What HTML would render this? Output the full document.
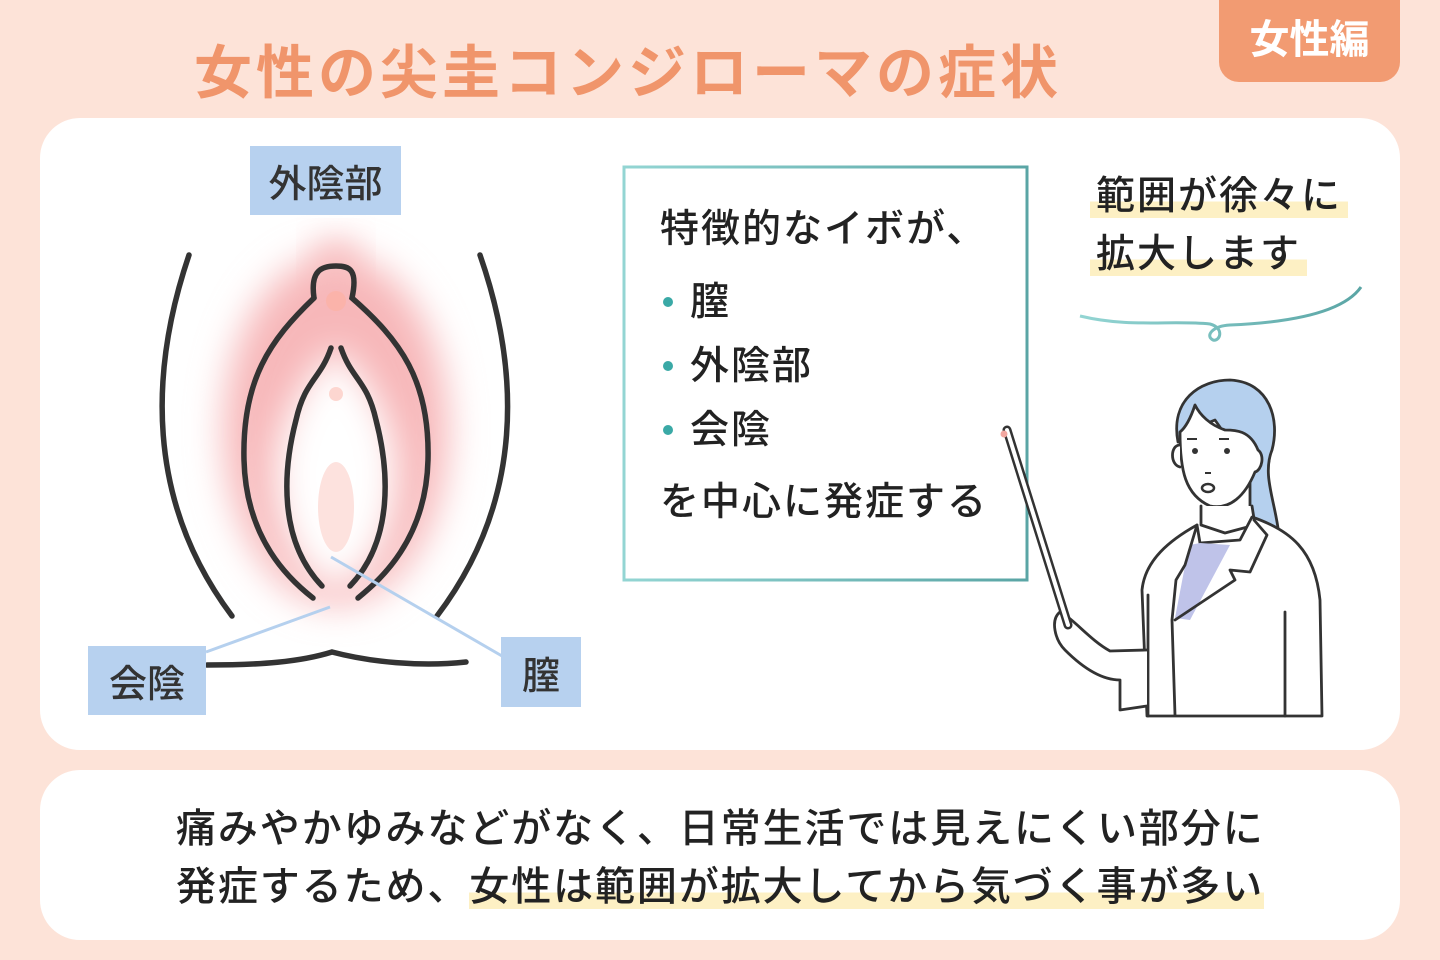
<!DOCTYPE html>
<html><head><meta charset="utf-8"><style>
body{margin:0;width:1440px;height:960px;background:#fde3d8;position:relative;overflow:hidden;font-family:"Liberation Sans","Noto Sans CJK JP",sans-serif;color:#222}
.t{position:absolute;white-space:nowrap}
.card{position:absolute;background:#fff;border-radius:40px}
.lab{position:absolute;background:#b7d1ef;font-size:38px;font-weight:500;display:flex;align-items:center;justify-content:center;color:#333}
.hl{background:linear-gradient(transparent 62%,#fdf0c4 62%)}
.bx{font-size:39px;font-weight:500;letter-spacing:2px;line-height:50px}
</style></head><body>
<div class="t" style="left:194px;top:26px;font-size:58px;font-weight:bold;color:#f0956b;letter-spacing:4px">女性の尖圭コンジローマの症状</div>
<div class="t" style="left:1219px;top:0;width:181px;height:82px;background:#f29b72;border-radius:0 0 20px 20px;color:#fff;font-size:40px;font-weight:bold;text-align:center;line-height:80px">女性編</div>
<div class="card" style="left:40px;top:118px;width:1360px;height:632px"></div>
<div class="card" style="left:40px;top:770px;width:1360px;height:170px"></div>
<svg class="t" style="left:0;top:0" width="1440" height="960">
<defs>
<filter id="b" x="-50%" y="-50%" width="200%" height="200%"><feGaussianBlur stdDeviation="18"/></filter>
<linearGradient id="g" x1="0" x2="1"><stop offset="0" stop-color="#93d5d3"/><stop offset="1" stop-color="#5aa5a5"/></linearGradient>
</defs>
<ellipse cx="336" cy="430" rx="112" ry="175" fill="#f7b7b9" filter="url(#b)"/>
<ellipse cx="336" cy="262" rx="20" ry="22" fill="#f7b7b9" filter="url(#b)"/>
<path d="M336,348 C300,380 275,430 275,470 C275,530 300,575 336,590 C372,575 397,530 397,470 C397,430 372,380 336,348Z" fill="#fff" filter="url(#b)"/>
<g fill="none" stroke="#333" stroke-width="5.5" stroke-linecap="round">
<path d="M189,255 C150,370 145,500 232,616"/>
<path d="M480,255 C520,370 525,500 437,616"/>
<path d="M314,298 C310,270 322,266 336,266 C350,266 358,270 352,298 C400,340 430,380 428,460 C426,540 380,580 358,598"/>
<path d="M314,298 C270,340 242,380 244,460 C246,540 290,580 313,598"/>
<path d="M331,348 C320,380 305,380 296,420 C283,470 278,540 322,586"/>
<path d="M341,348 C352,380 367,380 376,420 C389,470 394,540 350,586"/>
<path d="M207,665 C260,665 300,662 332,652 C370,662 420,667 466,662"/>
</g>
<circle cx="336" cy="301" r="10" fill="#fbb3aa"/>
<circle cx="336" cy="394" r="7" fill="#fdd6d0"/>
<ellipse cx="336" cy="507" rx="18" ry="45" fill="#fde2de"/>
<g stroke="#b5d0ee" stroke-width="3"><line x1="330" y1="607" x2="206" y2="652"/><line x1="331" y1="557" x2="502" y2="656"/></g>
<rect x="624" y="167" width="403" height="413" fill="none" stroke="url(#g)" stroke-width="3"/>
<g fill="#3aa9a6"><circle cx="668" cy="302" r="5"/><circle cx="668" cy="366" r="5"/><circle cx="668" cy="430" r="5"/></g>
<path d="M1080,316 C1130,328 1170,320 1210,324 C1225,328 1220,342 1213,340 C1205,336 1212,326 1230,325 C1300,322 1345,310 1361,287" fill="none" stroke="url(#g)" stroke-width="3"/>
<g stroke="#333" stroke-width="2.8" stroke-linejoin="round" stroke-linecap="round" fill="none">
<path d="M1178,442 C1170,400 1200,380 1230,380 C1270,382 1280,420 1272,450 C1262,475 1275,500 1279,535 L1250,520 L1250,470 L1215,420 L1185,432Z" fill="#b5d0ee"/>
<path d="M1180,432 C1180,470 1185,495 1210,506 C1230,510 1245,496 1255,472 C1262,470 1265,455 1258,450 C1250,430 1235,430 1225,430 C1210,425 1200,415 1195,405 C1190,420 1185,428 1180,432Z" fill="#fff"/>
<path d="M1180,445 C1170,445 1170,465 1180,467" fill="#fff"/>
<path d="M1201,506 L1201,525 L1225,533 L1255,525 L1252,506" fill="#fff"/>
<path d="M1197,525 C1170,540 1145,560 1142,590 L1147,716 L1322,716 L1320,600 C1315,550 1290,530 1252,517 L1240,540 L1200,543Z" fill="#fff"/>
<path d="M1190,545 L1188,550 L1175,618 L1190,620 L1230,545 L1200,543Z" fill="#bfc3e9" stroke="none"/>
<path d="M1197,525 L1185,565 L1176,580 L1172,620 L1175,715 M1175,620 L1235,580 L1230,570 L1250,572 L1267,535 L1254,520"/>
<path d="M1148,595 L1148,716 M1285,612 L1285,716"/>
<path d="M1147,650 L1110,651 C1090,640 1075,620 1060,612 C1050,620 1055,640 1065,650 C1080,665 1100,680 1120,680 L1120,710 L1147,706" fill="#fff"/>
<path d="M1007,430 L1068,625" stroke-width="9"/>
<path d="M1007,430 L1068,625" stroke="#fff" stroke-width="4"/>
</g>
<circle cx="1004" cy="434" r="3.5" fill="#f2a7a0"/>
<g fill="#333"><circle cx="1195" cy="451" r="3"/><circle cx="1227" cy="451" r="3"/><ellipse cx="1208" cy="488" rx="6" ry="4" fill="none" stroke="#333" stroke-width="2.5"/><rect x="1187" y="438" width="10" height="2"/><rect x="1219" y="438" width="10" height="2"/><rect x="1205" y="472" width="6" height="2"/></g>
</svg>
<div class="lab" style="left:250px;top:146px;width:151px;height:69px">外陰部</div>
<div class="lab" style="left:88px;top:646px;width:118px;height:69px">会陰</div>
<div class="lab" style="left:501px;top:637px;width:80px;height:70px">膣</div>
<div class="t bx" style="left:660px;top:205px">特徴的なイボが、</div>
<div class="t bx" style="left:690px;top:278px">膣</div>
<div class="t bx" style="left:690px;top:342px">外陰部</div>
<div class="t bx" style="left:690px;top:406px">会陰</div>
<div class="t bx" style="left:660px;top:478px">を中心に発症する</div>
<div class="t" style="left:1090px;top:168px;font-size:39px;font-weight:500;line-height:58px;letter-spacing:2px"><span class="hl" style="padding:0 6px 0 6px">範囲が徐々に</span><br><span class="hl" style="padding:0 6px 0 6px">拡大します</span></div>
<div class="t" style="left:176px;top:800px;font-size:40px;font-weight:500;line-height:58px;letter-spacing:1.9px">痛みやかゆみなどがなく、日常生活では見えにくい部分に<br>発症するため、<span class="hl">女性は範囲が拡大してから気づく事が多い</span></div>
</body></html>
